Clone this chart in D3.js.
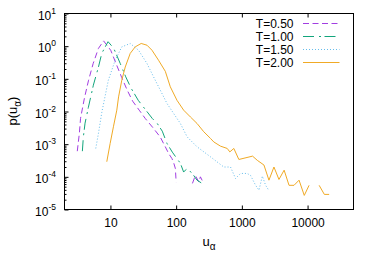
<!DOCTYPE html>
<html>
<head>
<meta charset="utf-8">
<script src="https://cdn.jsdelivr.net/npm/d3@7"></script>
<style>
  body { margin: 0; background: #fff; }
  svg { display: block; font-family: "Liberation Sans", Arial, sans-serif; }
</style>
</head>
<body>
<svg id="chart" width="378" height="265"></svg>
<script>
// series labels and tick values
const labels = ["T=0.50", "T=1.00", "T=1.50", "T=2.00"];
const xTicks = [10, 100, 1000, 10000];
const yExps = [-5, -4, -3, -2, -1, 0, 1];

// T=0.50 (null = gap, zero count in the histogram)
const u050 = [3.13, 3.37, 3.51, 4.04, 4.65, 5.45, 6.56, 7.87, 10.1, 12.2, 14.8, 18, 21.8, 27.4, 33.9, 44.9, 57.4, 68.4, 76.8, 86.5, 92.2, 97.3, 100, null, 177, 196, 221, 234, 260];
const p050 = [6.1e-4, 2.2e-3, 6.2e-3, 0.027, 0.091, 0.29, 0.85, 1.45, 0.75, 0.29, 0.112, 0.045, 0.0207, 0.011, 6.1e-3, 3.1e-3, 1.64e-3, 8.3e-4, 5.2e-4, 3.6e-4, 2.6e-4, 1.8e-4, 6.9e-5, null, 6.3e-5, 1.1e-4, 7e-5, 1e-4, 6.5e-5];

// T=1.00
const u100 = [3.74, 3.87, 4.11, 4.62, 5.5, 6.56, 7.4, 9.2, 11.2, 14.1, 17.1, 20.7, 26.5, 35.1, 43.4, 51.6, 61.5, 72.6, 87.5, 103, 116, 130, 138, 150, 185, 208, 248, 263];
const p100 = [6.1e-4, 1.64e-3, 4.4e-3, 0.0135, 0.064, 0.227, 0.61, 1.37, 0.87, 0.295, 0.115, 0.051, 0.022, 0.0106, 6.1e-3, 4.3e-3, 2.5e-3, 1.05e-3, 5.7e-4, 3.6e-4, 2.6e-4, 1.4e-4, 1.6e-4, 1.8e-4, 1.1e-4, 7.9e-5, 6.3e-5, 4.9e-5];

// T=1.50
const u150 = [5.98, 6.56, 7.4, 9.3, 11.8, 14.9, 20, 26.8, 36, 45.3, 57.4, 72.6, 91.6, 116, 147, 208, 333, 531, 672, 801, 955, 1208, 1358, 1620, 1820, 2050, 2300, 2560];
const p150 = [7.4e-4, 2.1e-3, 9.5e-3, 0.091, 0.37, 0.95, 1.21, 0.75, 0.295, 0.115, 0.045, 0.0176, 8.7e-3, 4.3e-3, 1.67e-3, 8.3e-4, 4.1e-4, 2.0e-4, 2.0e-4, 8.9e-5, 1.27e-4, 1.27e-4, 1.1e-4, 5.5e-5, 3.9e-5, 1.05e-4, 5.5e-5, 3.9e-5];

// T=2.00
const u200 = [8.8, 9.9, 11.1, 12.5, 13.3, 14.9, 16.8, 20, 23.8, 29.4, 36, 42.9, 54, 68.4, 81.5, 103, 130, 165, 208, 263, 333, 374, 473, 599, 656, 755, 900, 1455, 1718, 2168, 2583, 3078, 3670, 4400, 5220, 6220, 7420, 8910, 10540, null, 15000, 18000, 21300];
const p200 = [2.9e-4, 1.05e-3, 3.4e-3, 0.011, 0.028, 0.091, 0.23, 0.6, 0.95, 1.21, 1.07, 0.75, 0.37, 0.17, 0.057, 0.022, 0.011, 6.8e-3, 4.3e-3, 2.4e-3, 1.5e-3, 1.17e-3, 8.7e-4, 7.4e-4, 5.8e-4, 7.4e-4, 3.4e-4, 4.3e-4, 3.2e-4, 2.3e-4, 7.9e-5, 2.0e-4, 8.3e-5, 1.6e-4, 5.5e-5, 5.5e-5, 7.9e-5, 2.7e-5, 5.5e-5, null, 5.5e-5, 2.9e-5, 2.9e-5];

const series = [
  { name: labels[0], u: u050, p: p050, color: "#a23ee2", dash: "6,3.5" },
  { name: labels[1], u: u100, p: p100, color: "#12a57c", dash: "11,5,2,3.5" },
  { name: labels[2], u: u150, p: p150, color: "#66bdec", dash: "1,2" },
  { name: labels[3], u: u200, p: p200, color: "#f0aa26", dash: null }
];

const svg = d3.select("#chart");
const plotL = 64.5, plotR = 353.5, plotT = 13.5, plotB = 209.5;

const x = d3.scaleLog().domain([2, 50000]).range([plotL, plotR]);
const y = d3.scaleLog().domain([1e-5, 10]).range([plotB, plotT]);

// minor y ticks
const yMinor = [];
yExps.slice(0, -1).forEach(e => {
  for (let k = 2; k <= 9; k++) yMinor.push(k * Math.pow(10, e));
});

// bottom axis
const gx = svg.append("g")
  .attr("transform", `translate(0,${plotB})`)
  .call(d3.axisBottom(x).tickValues(xTicks).tickSize(-4).tickPadding(9).tickFormat(d3.format("d")));
gx.select(".domain").remove();
gx.selectAll("text").attr("font-size", 12).attr("fill", "#000").attr("font-family", "Liberation Sans, Arial, sans-serif");

// top axis (mirrored ticks)
const gxt = svg.append("g")
  .attr("transform", `translate(0,${plotT})`)
  .call(d3.axisTop(x).tickValues(xTicks).tickSize(-4).tickFormat(""));
gxt.select(".domain").remove();

// left axis
const gy = svg.append("g")
  .attr("transform", `translate(${plotL},0)`)
  .call(d3.axisLeft(y).tickValues(yExps.map(e => Math.pow(10, e))).tickSize(-4).tickFormat(""));
gy.select(".domain").remove();

const gym = svg.append("g")
  .attr("transform", `translate(${plotL},0)`)
  .call(d3.axisLeft(y).tickValues(yMinor).tickSize(-2).tickFormat(""));
gym.select(".domain").remove();

// y tick labels 10^n
yExps.forEach(e => {
  const t = svg.append("text")
    .attr("x", 56)
    .attr("y", y(Math.pow(10, e)) + 6)
    .attr("text-anchor", "end")
    .attr("font-size", 12)
    .attr("fill", "#000");
  t.append("tspan").text("10");
  t.append("tspan").attr("dy", -6).attr("font-size", 8.5).text(e);
});

// border
svg.append("rect")
  .attr("x", plotL).attr("y", plotT)
  .attr("width", plotR - plotL).attr("height", plotB - plotT)
  .attr("fill", "none").attr("stroke", "#000").attr("stroke-width", 1);

// axis labels
const xl = svg.append("text")
  .attr("x", 209).attr("y", 246)
  .attr("text-anchor", "middle")
  .attr("font-size", 13);
xl.append("tspan").text("u");
xl.append("tspan").attr("dy", 4).attr("font-size", 10).text("α");

const yl = svg.append("text")
  .attr("transform", "translate(16.5,111) rotate(-90)")
  .attr("text-anchor", "middle")
  .attr("font-size", 13);
yl.append("tspan").text("p(u");
yl.append("tspan").attr("dy", 4).attr("font-size", 10).text("α");
yl.append("tspan").attr("dy", -4).text(")");

// curves
const line = d3.line()
  .defined(d => d[0] != null && d[1] != null)
  .x(d => x(d[0]))
  .y(d => y(d[1]));

series.forEach(s => {
  const pts = s.u.map((v, i) => [v, s.p[i]]);
  svg.append("path")
    .datum(pts)
    .attr("d", line)
    .attr("fill", "none")
    .attr("stroke", s.color)
    .attr("stroke-width", 1)
    .attr("stroke-dasharray", s.dash);
});

// legend
series.forEach((s, i) => {
  const ly = 23.5 + i * 13;
  svg.append("text")
    .attr("x", 293.5).attr("y", ly + 4.3)
    .attr("text-anchor", "end")
    .attr("font-size", 12)
    .text(s.name);
  svg.append("line")
    .attr("x1", 303).attr("x2", 339.5)
    .attr("y1", ly).attr("y2", ly)
    .attr("stroke", s.color)
    .attr("stroke-width", 1)
    .attr("stroke-dasharray", s.dash);
});
</script>
</body>
</html>
